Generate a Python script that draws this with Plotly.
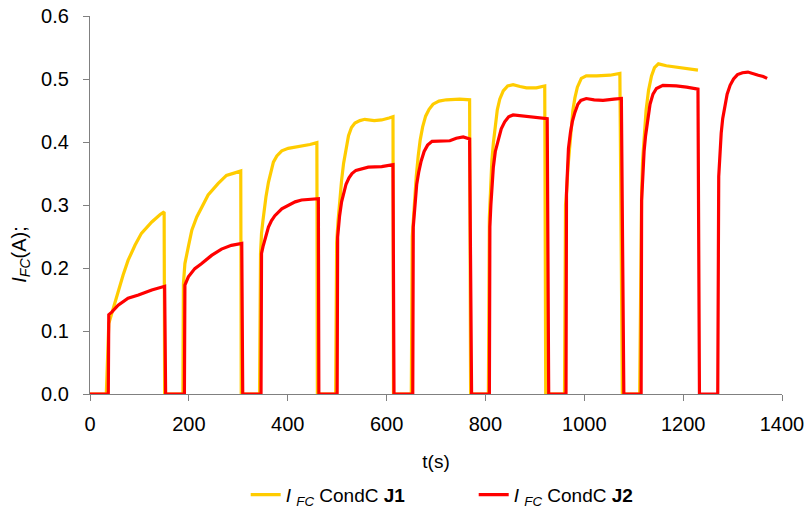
import plotly.graph_objects as go

# Series J1 (yellow): time (s) and current (A)
t_j1 = [0, 33, 38, 47, 57, 67, 77, 91, 104, 125, 142, 150, 151,
        188, 189, 192, 199, 206, 216, 226, 239, 259, 276, 293, 305, 306,
        343, 345, 347, 350, 353, 356, 361, 366, 371, 378, 388, 401, 428, 445, 459, 460,
        497, 499, 502, 505, 509, 513, 518, 523, 529, 536, 546, 556, 575, 590, 605, 613, 614,
        650, 652, 654, 657, 660, 664, 668, 673, 679, 686, 694, 706, 721, 748, 768, 770,
        806, 808, 810, 813, 816, 820, 824, 829, 836, 845, 856, 870, 883, 903, 920, 922,
        960, 962, 964, 967, 971, 974, 977, 981, 986, 994, 1004, 1025, 1052, 1072, 1077,
        1112, 1114, 1116, 1118, 1121, 1125, 1130, 1136, 1142, 1150, 1166, 1193, 1213, 1230]
i_j1 = [0, 0, 0.112, 0.136, 0.165, 0.189, 0.212, 0.236, 0.255, 0.273, 0.285, 0.289, 0,
        0, 0.175, 0.207, 0.234, 0.260, 0.281, 0.297, 0.316, 0.334, 0.347, 0.351, 0.354, 0,
        0, 0.223, 0.255, 0.276, 0.296, 0.313, 0.336, 0.355, 0.368, 0.378, 0.386, 0.390, 0.393, 0.396, 0.399, 0,
        0, 0.240, 0.276, 0.310, 0.339, 0.366, 0.392, 0.410, 0.423, 0.430, 0.434, 0.436, 0.434, 0.435, 0.438, 0.440, 0,
        0, 0.250, 0.276, 0.315, 0.345, 0.378, 0.403, 0.424, 0.441, 0.452, 0.460, 0.465, 0.467, 0.468, 0.467, 0,
        0, 0.280, 0.330, 0.370, 0.398, 0.428, 0.451, 0.468, 0.481, 0.489, 0.491, 0.488, 0.486, 0.486, 0.489, 0,
        0, 0.300, 0.318, 0.360, 0.398, 0.428, 0.451, 0.470, 0.487, 0.501, 0.505, 0.505, 0.506, 0.509, 0,
        0, 0.228, 0.320, 0.370, 0.410, 0.450, 0.482, 0.505, 0.518, 0.524, 0.521, 0.518, 0.515, 0.514]

# Series J2 (red): time (s) and current (A)
t_j2 = [0, 37, 38, 44, 57, 77, 98, 125, 151, 153,
        191, 192, 199, 212, 226, 246, 266, 286, 307, 309,
        346, 347, 350, 355, 361, 367, 374, 388, 401, 415, 428, 445, 462, 463,
        500, 501, 503, 505, 509, 513, 518, 524, 530, 538, 550, 563, 590, 613, 615,
        653, 654, 656, 658, 661, 665, 670, 676, 683, 692, 714, 728, 741, 755, 768, 772,
        808, 809, 811, 813, 816, 820, 826, 832, 839, 847, 856, 870, 883, 903, 925, 928,
        963, 964, 966, 968, 972, 976, 981, 987, 993, 1004, 1020, 1038, 1060, 1075, 1080,
        1115, 1116, 1118, 1121, 1124, 1128, 1133, 1139, 1146, 1159, 1175, 1186, 1207, 1230, 1233,
        1270, 1272, 1274, 1277, 1280, 1284, 1289, 1295, 1302, 1310, 1320, 1331, 1342, 1352, 1362, 1370]
i_j2 = [0, 0, 0.126, 0.130, 0.141, 0.152, 0.157, 0.165, 0.171, 0,
        0, 0.173, 0.186, 0.199, 0.207, 0.220, 0.230, 0.236, 0.239, 0,
        0, 0.223, 0.234, 0.250, 0.265, 0.275, 0.283, 0.294, 0.300, 0.305, 0.308, 0.309, 0.310, 0,
        0, 0.249, 0.268, 0.283, 0.305, 0.320, 0.333, 0.343, 0.350, 0.355, 0.358, 0.360, 0.361, 0.364, 0,
        0, 0.265, 0.290, 0.312, 0.333, 0.352, 0.370, 0.385, 0.395, 0.401, 0.402, 0.402, 0.406, 0.408, 0.405, 0,
        0, 0.265, 0.300, 0.330, 0.360, 0.385, 0.405, 0.421, 0.432, 0.440, 0.443, 0.442, 0.441, 0.439, 0.437, 0,
        0, 0.318, 0.360, 0.390, 0.415, 0.433, 0.447, 0.460, 0.466, 0.469, 0.467, 0.466, 0.468, 0.469, 0,
        0, 0.307, 0.350, 0.385, 0.410, 0.437, 0.460, 0.476, 0.485, 0.490, 0.490, 0.489, 0.487, 0.484, 0,
        0, 0.345, 0.380, 0.414, 0.437, 0.458, 0.476, 0.490, 0.500, 0.507, 0.510, 0.511, 0.509, 0.506, 0.504, 0.501]

x_ticks = [0, 200, 400, 600, 800, 1000, 1200, 1400]
y_ticks = [0.0, 0.1, 0.2, 0.3, 0.4, 0.5, 0.6]
y_ticktext = ["0.0", "0.1", "0.2", "0.3", "0.4", "0.5", "0.6"]

name_j1 = "<i>I</i> <sub><i>FC</i></sub> CondC <b>J1</b>"
name_j2 = "<i>I</i> <sub><i>FC</i></sub> CondC <b>J2</b>"

FONT = "Arial, Liberation Sans, sans-serif"

fig = go.Figure()
fig.add_trace(go.Scatter(x=t_j1, y=i_j1, mode="lines", name=name_j1,
                         line=dict(color="#FFCC00", width=3.2)))
fig.add_trace(go.Scatter(x=t_j2, y=i_j2, mode="lines", name=name_j2,
                         line=dict(color="#FF0000", width=3.2)))

fig.update_layout(
    width=806, height=509,
    margin=dict(l=90, r=24, t=16, b=115),
    paper_bgcolor="white", plot_bgcolor="white",
    font=dict(family=FONT, size=20, color="black"),
    showlegend=True,
    legend=dict(orientation="h", x=0.225, xanchor="left",
                yref="container", y=0.028, yanchor="middle",
                font=dict(size=19), itemwidth=30, entrywidth=183,
                bgcolor="rgba(0,0,0,0)"),
    xaxis=dict(range=[0, 1400], tickvals=x_ticks, showgrid=False, zeroline=False,
               showline=True, linecolor="#808080", linewidth=1.3,
               ticks="outside", ticklen=6, tickcolor="#808080", tickwidth=1.3,
               ticklabelstandoff=6, automargin=False,
               title=dict(text="t(s)", font=dict(size=19), standoff=20)),
    yaxis=dict(range=[0, 0.6], tickvals=y_ticks, ticktext=y_ticktext, showgrid=False,
               zeroline=False, showline=True, linecolor="#808080", linewidth=1.3,
               ticks="outside", ticklen=6, tickcolor="#808080", tickwidth=1.3,
               ticklabelstandoff=10, automargin=False),
    annotations=[dict(text="<i>I<sub>FC</sub></i>(A);", textangle=-90,
                      xref="paper", yref="paper", x=-0.1, y=0.368,
                      xanchor="center", yanchor="middle", showarrow=False,
                      font=dict(size=20))],
)

fig.write_html("out.html",
               config={"displayModeBar": False},
               post_script="document.body.style.margin='0';document.body.style.overflow='hidden';")
